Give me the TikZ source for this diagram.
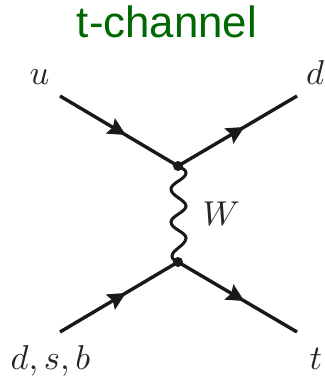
\documentclass[tikz,border=0pt]{standalone}
\usepackage{fontspec}
\setmainfont{Liberation Sans}
\usetikzlibrary{decorations.markings}
\definecolor{titlegreen}{RGB}{0,104,0}
\definecolor{ink}{RGB}{26,24,24}
\tikzset{
  lab/.style={inner sep=0pt,anchor=base west,scale=3.45,text=black!85},
  vtx/.style={circle,fill=ink,inner sep=0pt,minimum size=10pt},
  quark/.style={ink,line width=3.4pt,postaction={decorate},decoration={markings,
    mark=at position 0.55 with {\fill[ink] (1pt,0pt) -- (-17pt,9pt) -- (-14pt,0pt) -- (-17pt,-9pt) -- cycle;}}},
  boson/.style={ink,line width=3pt,line cap=round}
}
\begin{document}
\begin{tikzpicture}[x=1pt,y=-1pt]
\useasboundingbox (0,0) rectangle (324,377);
\node[inner sep=0pt,anchor=base,text=titlegreen,font=\fontsize{43.8}{50}\selectfont] (title) at (167,38) {t-channel};
\node[vtx] (top) at (178,166) {};
\node[vtx] (bot) at (178,262) {};
\coordinate (ul) at (60,96);
\coordinate (ur) at (297,96);
\coordinate (ll) at (60,332);
\coordinate (lr) at (297,332);
\node[lab] (lu) at (29,85) {$u$};
\node[lab] (ld) at (305.5,85) {$d$};
\node[lab] (lW) at (202,225) {$W$};
\node[lab] (ldsb) at (10,369) {$d,s,b$};
\node[lab] (lt) at (309,369) {$t$};
\draw[quark] (ul) -- (top.center);
\draw[quark] (top.center) -- (ur);
\draw[quark] (ll) -- (bot.center);
\draw[quark] (bot.center) -- (lr);
\draw[boson] (top.center) .. controls (182,168) and (186,170) .. (186,173)
  .. controls (186,179) and (171,183) .. (171,189)
  .. controls (171,196) and (186,200) .. (186,206)
  .. controls (186,212) and (171,216) .. (171,222)
  .. controls (171,229) and (186,232) .. (186,238)
  .. controls (186,245) and (172,250) .. (172,256)
  .. controls (172,259) and (175,261) .. (bot.center);
\end{tikzpicture}
\end{document}
